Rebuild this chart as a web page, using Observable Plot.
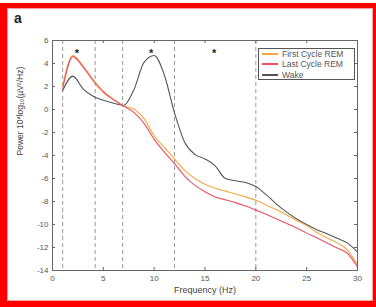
<!DOCTYPE html>
<html>
<head>
<meta charset="utf-8">
<script src="https://cdn.jsdelivr.net/npm/d3@7"></script>
<script src="https://cdn.jsdelivr.net/npm/@observablehq/plot@0.6"></script>
<style>
  html, body { margin: 0; padding: 0; background: #fff; }
  #wrap { position: relative; width: 376px; height: 307px; overflow: hidden; font-family: "Liberation Sans", Arial, sans-serif; }
  #chart { position: absolute; left: 0; top: 0; }
  #border { position: absolute; left: 0; top: 3px; width: 376px; height: 304px; box-sizing: border-box;
            border-top: 5px solid #f00; border-left: 7px solid #f00; border-right: 3px solid #f00; border-bottom: 6px solid #f00;
            box-shadow: inset 1px 1px 0 #f9a0a0, inset -1px -1px 0 #f9a0a0; pointer-events: none; }
  #panel { position: absolute; left: 14px; top: 10px; font-weight: bold; font-size: 14px; color: #222; }
  #legend { position: absolute; left: 258px; top: 48px; width: 97px; height: 32px; box-sizing: border-box;
            border: 1px solid #555; background: #fff; padding-top: 0px; }
  .item { display: flex; align-items: center; height: 10.3px; font-size: 8.5px; color: #555; white-space: nowrap; }
  .sw { width: 16px; height: 2px; margin-left: 3px; margin-right: 4px; }
</style>
</head>
<body>
<div id="wrap">
  <div id="chart"></div>
  <div id="legend"></div>
  <div id="panel">a</div>
  <div id="border"></div>
</div>
<script>
const freqs = [1,2,3,4,5,6,7,8,9,10,11,12,13,14,15,16,17,18,19,20,21,22,23,24,25,26,27,28,29,30];
const wake = [1.65,2.9,1.8,1.15,0.8,0.55,0.35,1.7,4.1,4.7,3.0,-0.3,-2.85,-3.9,-4.3,-4.9,-6.0,-6.2,-6.35,-6.7,-7.4,-8.2,-8.9,-9.5,-10.0,-10.45,-10.8,-11.2,-11.6,-12.4];
const firstREM = [2.1,4.7,3.8,2.6,1.6,0.9,0.3,0.05,-0.8,-2.3,-3.3,-4.3,-5.3,-6.0,-6.5,-6.85,-7.1,-7.35,-7.6,-7.9,-8.3,-8.7,-9.15,-9.65,-10.1,-10.7,-11.15,-11.6,-12.2,-13.5];
const lastREM = [1.8,4.6,3.7,2.5,1.5,0.85,0.3,-0.25,-1.2,-2.6,-3.7,-4.7,-5.8,-6.6,-7.15,-7.6,-7.85,-8.1,-8.4,-8.75,-9.1,-9.5,-9.9,-10.3,-10.75,-11.15,-11.6,-12.05,-12.5,-13.7];
const seriesNames = ["First Cycle REM", "Last Cycle REM", "Wake"];
const seriesColors = ["#f5a742", "#ea5264", "#555555"];
const bandEdges = [1, 4.2, 6.9, 12, 20];
const starFreqs = [2.4, 9.7, 15.9];
const xTicks = [0,5,10,15,20,25,30];
const yTicks = [-14,-12,-10,-8,-6,-4,-2,0,2,4,6];
const xLabel = "Frequency (Hz)";
const yLabel = "Power 10*log\u2081\u2080(\u00b5V\u00b2/Hz)";

const W = 376, H = 307, mL = 52, mR = 19, mT = 40, mB = 37;
const innerW = W - mL - mR, innerH = H - mT - mB;

const rows = [];
[firstREM, lastREM, wake].forEach((arr, i) => arr.forEach((v, j) => rows.push({series: seriesNames[i], f: freqs[j], p: v})));
const order = ["Wake", "First Cycle REM", "Last Cycle REM"];

const axisColor = "#666";
const chart = Plot.plot({
  width: W, height: H,
  marginLeft: mL, marginRight: mR, marginTop: mT, marginBottom: mB,
  style: {fontFamily: "'Liberation Sans', Arial, sans-serif", background: "transparent"},
  x: {domain: [0, 30], axis: null},
  y: {domain: [-14, 6], axis: null},
  color: {domain: seriesNames, range: seriesColors},
  marks: [
    Plot.ruleX(bandEdges, {x: d => d, stroke: "#9a9a9a", strokeWidth: 1, strokeDasharray: "4,3"}),
    ...order.map(name => Plot.line(rows.filter(r => r.series === name), {x: "f", y: "p", stroke: "series", strokeWidth: 1.1, curve: "monotone-x"})),
    Plot.text(starFreqs, {x: d => d, text: () => "*", frameAnchor: "top", dy: 9, fontSize: 11, fontWeight: "bold", fill: "#222"}),
    Plot.frame({stroke: axisColor, strokeWidth: 1}),
    Plot.tickX(xTicks, {x: d => d, insetTop: innerH - 3, stroke: axisColor}),
    Plot.tickX(xTicks, {x: d => d, insetBottom: innerH - 3, stroke: axisColor}),
    Plot.tickY(yTicks, {y: d => d, insetRight: innerW - 3, stroke: axisColor}),
    Plot.tickY(yTicks, {y: d => d, insetLeft: innerW - 3, stroke: axisColor}),
    Plot.axisX(xTicks, {anchor: "bottom", tickSize: 0, tickPadding: 5, fontSize: 8, fill: "#555", label: null, tickFormat: d => String(d)}),
    Plot.axisY(yTicks, {anchor: "left", tickSize: 0, tickPadding: 4, fontSize: 8, fill: "#555", label: null, tickFormat: d => String(d)}),
    Plot.text([xLabel], {text: d => d, frameAnchor: "bottom", dy: 22, fontSize: 9, fill: "#444"}),
    Plot.text([yLabel], {text: d => d, frameAnchor: "left", rotate: -90, dx: -32, fontSize: 8.5, fill: "#444"})
  ]
});
document.getElementById("chart").appendChild(chart);

const legend = document.getElementById("legend");
seriesNames.forEach((name, i) => {
  const item = document.createElement("div");
  item.className = "item";
  const sw = document.createElement("span");
  sw.className = "sw";
  sw.style.background = seriesColors[i];
  const t = document.createElement("span");
  t.textContent = name;
  item.appendChild(sw); item.appendChild(t);
  legend.appendChild(item);
});
</script>
</body>
</html>
